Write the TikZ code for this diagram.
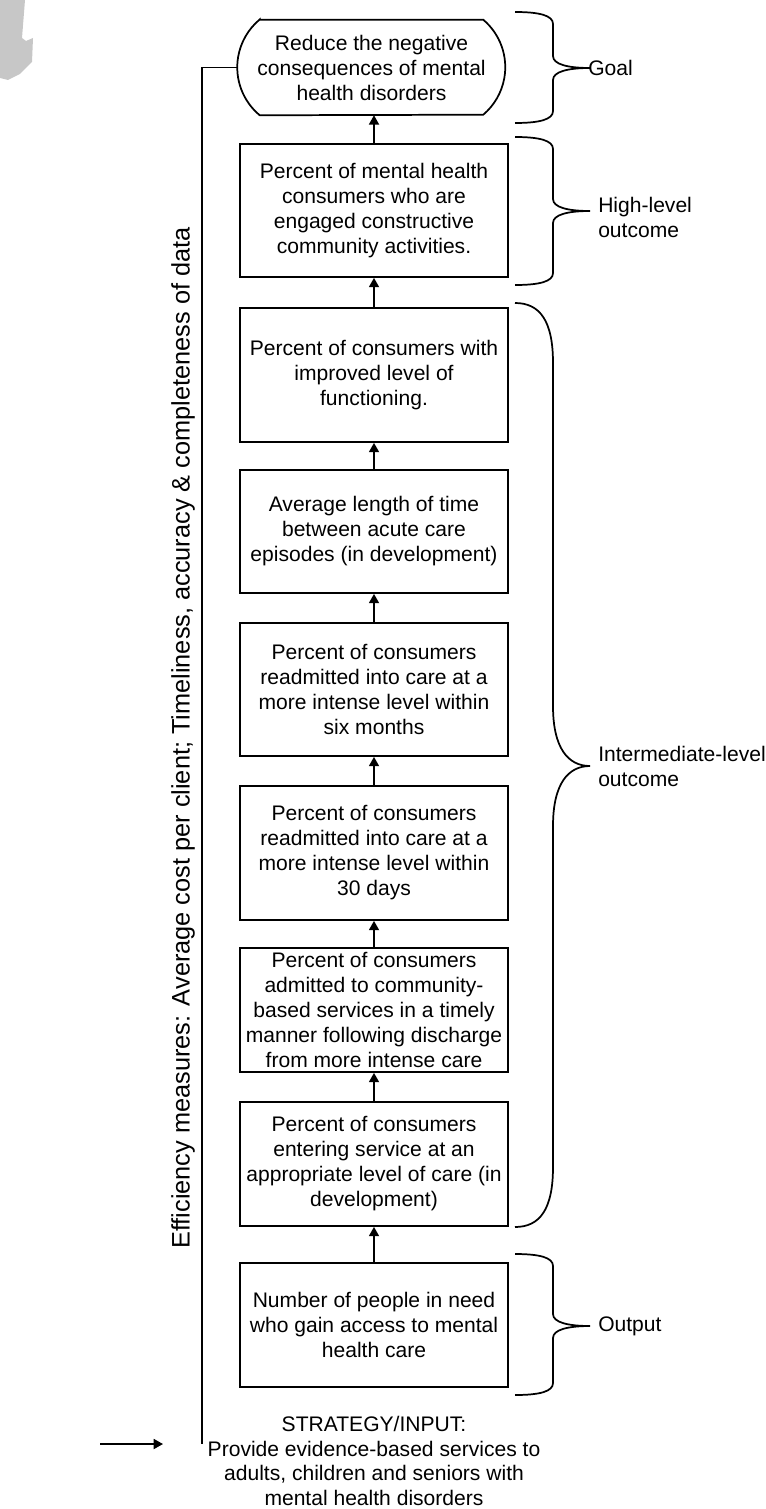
\documentclass[tikz,border=0pt]{standalone}
\usepackage{fontspec}
\setmainfont{Liberation Sans}
\usetikzlibrary{arrows.meta}

% curly brace in the style of the original drawing: top y, bottom y, tip y, curve length
\newcommand{\wordbrace}[4]{%
  \draw[brace] (515,#1) .. controls (540,#1) and (553,{#1+0.3*#4}) .. (553,{#1+#4})
    -- (553,{#3-#4}) .. controls (553,{#3-0.3*#4}) and (568,#3) .. (590,#3)
    .. controls (568,#3) and (553,{#3+0.3*#4}) .. (553,{#3+#4})
    -- (553,{#2-#4}) .. controls (553,{#2-0.3*#4}) and (540,#2) .. (515,#2);}

\begin{document}
\begin{tikzpicture}[x=0.75pt, y=-0.75pt,
            every node/.style={font=\fontsize{15.8}{18.75}\selectfont},
            box/.style={rectangle, draw, line width=1.3pt, minimum width=201pt, align=center, inner sep=2pt},
            goalbox/.style={rectangle, minimum width=200.25pt, minimum height=71.25pt, align=center, inner sep=2pt},
            arrow/.style={line width=1.3pt, -{Triangle[length=7pt,width=7.5pt]}},
            line/.style={line width=1.3pt},
            brace/.style={line width=1.3pt},
            label/.style={anchor=west, inner sep=0pt, align=left},
        ]
            \useasboundingbox (0,0) rectangle (765,1509);
            \fill[black!22] (0,0) -- (25,0) -- (22,38) -- (26,41) -- (33,38) -- (32,62) -- (20,74) -- (8,80) -- (0,78) -- cycle;

            \node[goalbox] (goalnode) at (371.5,67.5) {Reduce the negative\\consequences of mental\\health disorders};
            \draw[line] ([xshift=16.5pt]goalnode.north west) -- ([xshift=-16.5pt]goalnode.north east)
                arc[start angle=49.7, end angle=-49.7, radius=46.7pt]
                -- ([xshift=16.5pt]goalnode.south west)
                arc[start angle=230.3, end angle=129.7, radius=46.7pt] -- cycle;
            \node[box, minimum height=99.75pt] (highnode) at (374,210.5) {Percent of mental health\\consumers who are\\engaged constructive\\community activities.};
            \node[box, minimum height=100.5pt] (funcnode) at (374,375) {Percent of consumers with\\improved level of\\functioning.};
            \node[box, minimum height=92.25pt] (acutenode) at (374,531.5) {Average length of time\\between acute care\\episodes (in development)};
            \node[box, minimum height=99.75pt] (sixnode) at (374,689.5) {Percent of consumers\\readmitted into care at a\\more intense level within\\six months};
            \node[box, minimum height=100.5pt] (thirtynode) at (374,853) {Percent of consumers\\readmitted into care at a\\more intense level within\\30 days};
            \node[box, minimum height=93pt] (admitnode) at (374,1010) {Percent of consumers\\admitted to community-\\based services in a timely\\manner following discharge\\from more intense care};
            \node[box, minimum height=93pt] (entrynode) at (374,1164) {Percent of consumers\\entering service at an\\appropriate level of care (in\\development)};
            \node[box, minimum height=93pt] (accessnode) at (374,1325) {Number of people in need\\who gain access to mental\\health care};

            \foreach \a/\b in {accessnode/entrynode, entrynode/admitnode, admitnode/thirtynode, thirtynode/sixnode,
                               sixnode/acutenode, acutenode/funcnode, funcnode/highnode}
                \draw[arrow] (\a.north) -- (\b.south);
            \draw[arrow] (highnode.north) -- (highnode.north |- goalnode.south);

            % strategy at the bottom
            \node[align=center, inner sep=0pt, font=\fontsize{15.8}{18.4}\selectfont] (stratnode) at (374,1461) {STRATEGY/INPUT:\\Provide evidence-based services to\\adults, children and seniors with\\mental health disorders};
            \coordinate (inpstart) at (100,1444);
            \coordinate (inpend) at (163,1444);
            \draw[arrow] (inpstart) -- (inpend);

            % efficiency measures
            \coordinate (effend) at (202,1444);
            \draw[line] (goalnode.west) -| (effend);
            \node[rotate=90, inner sep=0pt, font=\fontsize{19}{22}\selectfont] (effnode) at (183,738) {Efficiency measures: Average cost per client; Timeliness, accuracy \& completeness of data};

            % braces and levels
            \wordbrace{12}{123}{68}{12}
            \wordbrace{137}{285}{211}{12}
            \wordbrace{303}{1227}{766}{60}
            \wordbrace{1254}{1395}{1326}{12}
            \node[label] (goallabel) at (588,68) {Goal};
            \node[label] (highlabel) at (598,217) {High-level\\outcome};
            \node[label] (midlabel) at (598,766) {Intermediate-level\\outcome};
            \node[label] (outlabel) at (598,1326) {Output};
        \end{tikzpicture}
\end{document}
